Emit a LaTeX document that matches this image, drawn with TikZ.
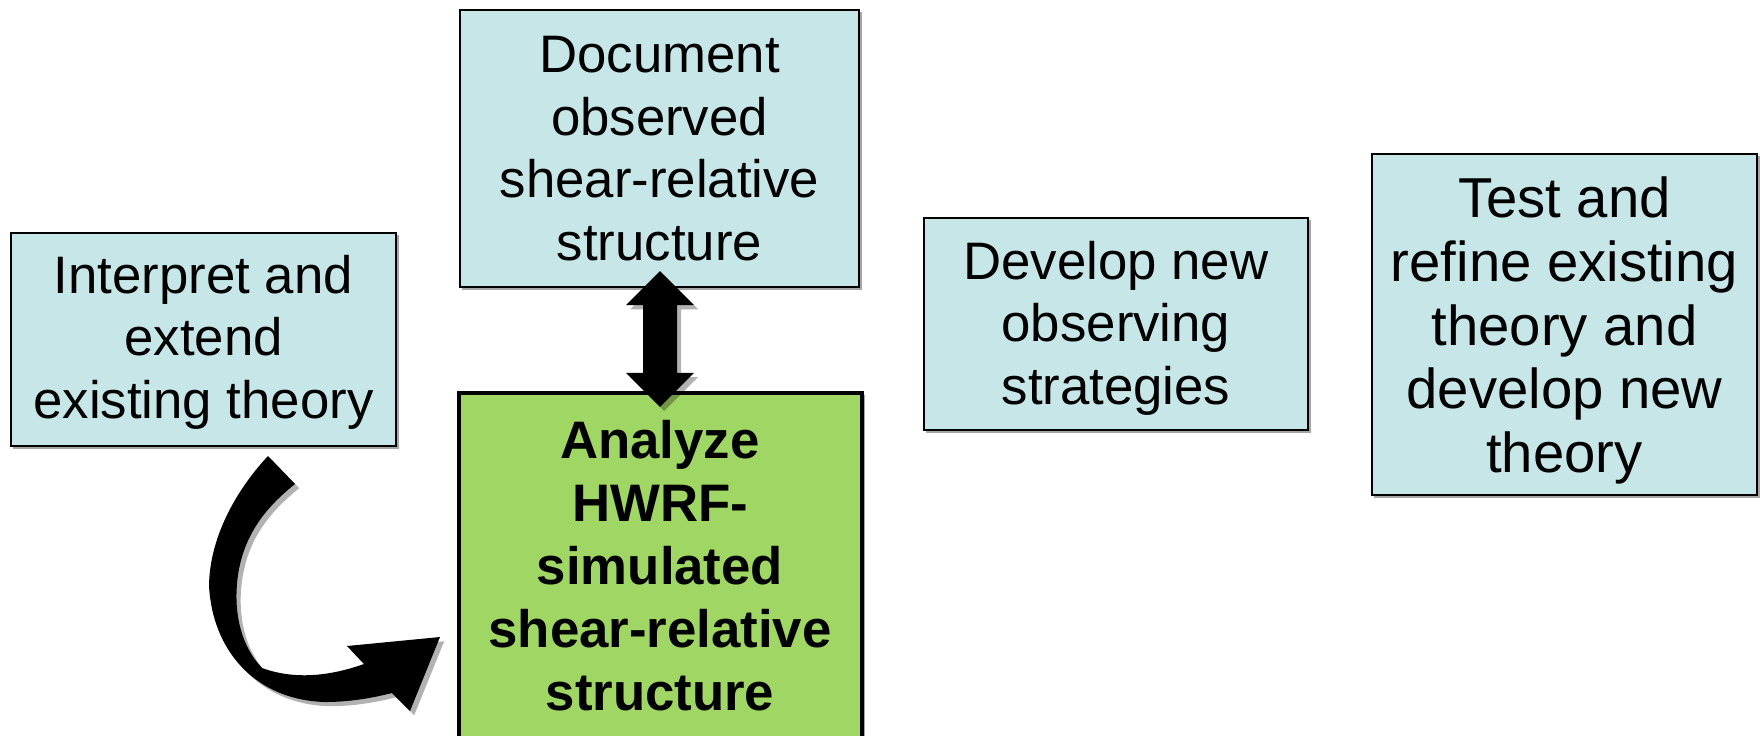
\documentclass[tikz,border=0pt]{standalone}
\usepackage{fontspec}
\setmainfont{Liberation Sans}
\usetikzlibrary{calc,shadows}
\definecolor{boxblue}{RGB}{198,230,232}
\definecolor{boxgreen}{RGB}{160,214,99}
\newcommand{\toppad}[1]{\rule{0pt}{\dimexpr 0.73em+#1\relax}}
\begin{document}
\begin{tikzpicture}[x=0.01cm,y=-0.01cm,
  bluebox/.style={draw=black, line width=0.6pt, fill=boxblue, align=center, inner sep=0pt,
    font=\fontsize{15}{17.8}\selectfont,
    drop shadow={shadow xshift=0.7pt, shadow yshift=-0.7pt, opacity=0.35, fill=black}},
  greenbox/.style={draw=black, line width=1.2pt, fill=boxgreen, inner sep=0pt,
    drop shadow={shadow xshift=0.7pt, shadow yshift=-0.7pt, opacity=0.35, fill=black}},
  boldtext/.style={align=center, inner sep=0pt, font=\bfseries\fontsize{15}{17.9}\selectfont},
  blockarrow/.style={fill=black,
    drop shadow={shadow xshift=1.2pt, shadow yshift=-1.2pt, opacity=0.3, fill=black}}]
\useasboundingbox (0,0) rectangle (1760,735);

\node[bluebox, minimum width=3.85cm, minimum height=2.13cm] (interp) at (203.5,339.5)
  {\toppad{0.05cm}Interpret and\\extend\\existing theory};
\node[bluebox, minimum width=3.99cm, minimum height=2.77cm] (doc) at (659.5,148.5)
  {Document\\observed\\shear-relative\\structure};
\node[bluebox, minimum width=3.84cm, minimum height=2.12cm] (dev) at (1116,324)
  {\toppad{0.08cm}Develop new\\observing\\strategies};
\node[bluebox, minimum width=3.85cm, minimum height=3.41cm,
  font=\fontsize{16}{18.1}\selectfont] (test) at (1564.5,324.5)
  {\toppad{0.12cm}Test and\\refine existing\\theory and\\develop new\\theory};

\node[greenbox, minimum width=4.03cm, minimum height=3.67cm] (ana) at (660.5,576.5) {};
\node[boldtext] (anatext) at (660,566)
  {Analyze\\HWRF-\\simulated\\shear-relative\\structure};

% double-headed block arrow between Document and Analyze
\coordinate (dT) at ($(doc.south)+(0.5,-17)$);
\coordinate (dB) at ($(ana.north)+(-0.5,16)$);
\fill[blockarrow] (dT) -- ($(dT)+(34,34)$) -- ($(dT)+(17,34)$) -- ($(dB)+(17,-34)$)
  -- ($(dB)+(34,-34)$) -- (dB) -- ($(dB)+(-34,-34)$) -- ($(dB)+(-17,-34)$)
  -- ($(dT)+(-17,34)$) -- ($(dT)+(-34,34)$) -- cycle;

% curved block arrow from Interpret to Analyze
\fill[blockarrow] (268,456) .. controls (238,488) and (210,535) .. (209,585)
  .. controls (212,650) and (255,700) .. (325,702)
  .. controls (350,702) and (372,698) .. (392,693)
  -- (410,711) -- (440,637) -- (347,646) -- (364,664)
  .. controls (330,676) and (295,680) .. (262,668)
  .. controls (240,645) and (233,610) .. (238,575)
  .. controls (244,535) and (265,508) .. (295,484) -- cycle;
\end{tikzpicture}
\end{document}
